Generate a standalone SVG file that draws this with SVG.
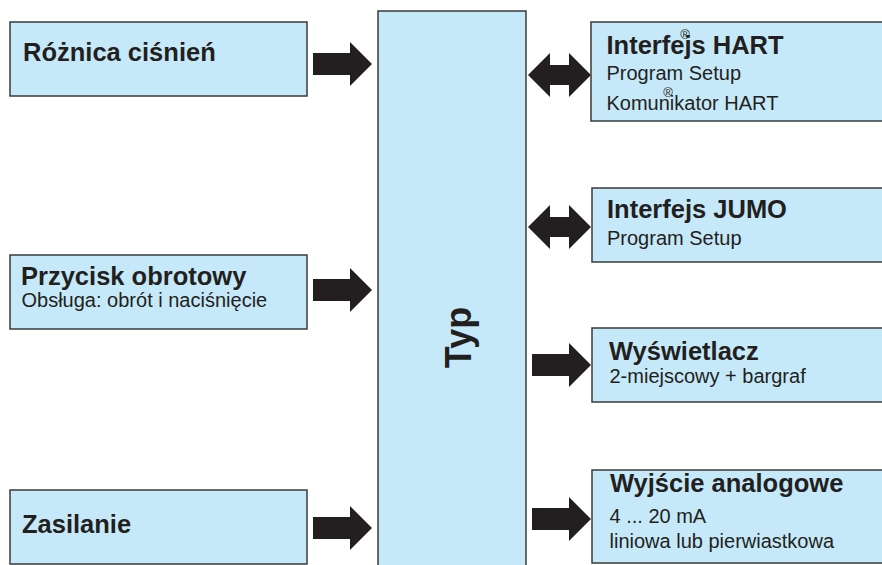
<svg xmlns="http://www.w3.org/2000/svg" width="882" height="565" viewBox="0 0 882 565">
<style>
.box{fill:#c6e9f9;stroke:#3a3a3a;stroke-width:1.5}
.arr{fill:#231f20}
text{font-family:"Liberation Sans",Arial,Helvetica,sans-serif;fill:#231f20}
.b{font-weight:bold;font-size:25.5px}
.r{font-size:20px}
.reg{font-size:13px}
</style>
<defs>
<path id="arrR" d="M0,-11 H37 V-22 L59,0 L37,22 V11 H0 Z"/>
<path id="arrD" d="M0,0 L22,-22 V-10 H41 V-22 L63,0 L41,22 V10 H22 V22 Z"/>
</defs>
<g id="connectors" class="arr">
<use href="#arrR" transform="translate(313,64)"/>
<use href="#arrR" transform="translate(313,290)"/>
<use href="#arrR" transform="translate(313,528)"/>
<use href="#arrD" transform="translate(528,75)"/>
<use href="#arrD" transform="translate(528,227)"/>
<use href="#arrR" transform="translate(532,365)"/>
<use href="#arrR" transform="translate(532,519)"/>
</g>
<g id="typ">
<rect class="box" x="378" y="11" width="148" height="570"/>
<text class="b" style="font-size:36px" text-anchor="middle" transform="translate(471,337.5) rotate(-90)">Typ</text>
</g>
<g id="roznica">
<rect class="box" x="10" y="22" width="297" height="74"/>
<text class="b" x="23" y="61">Różnica ciśnień</text>
</g>
<g id="przycisk">
<rect class="box" x="10" y="255" width="297" height="74"/>
<text class="b" x="21" y="285">Przycisk obrotowy</text>
<text class="r" x="21.5" y="307">Obsługa: obrót i naciśnięcie</text>
</g>
<g id="zasilanie">
<rect class="box" x="10" y="490" width="297" height="74"/>
<text class="b" x="22" y="533">Zasilanie</text>
</g>
<g id="hart">
<rect class="box" x="591" y="22" width="300" height="99"/>
<text class="b" x="606.5" y="54">Interfejs HART</text>
<text class="reg" x="685" y="38.5" text-anchor="middle">®</text>
<text class="r" x="606.5" y="80">Program Setup</text>
<text class="r" x="606.5" y="110">Komunikator HART</text>
<text class="reg" x="668" y="97" text-anchor="middle">®</text>
</g>
<g id="jumo">
<rect class="box" x="592" y="188" width="300" height="74"/>
<text class="b" x="607" y="218">Interfejs JUMO</text>
<text class="r" x="607" y="245">Program Setup</text>
</g>
<g id="wyswietlacz">
<rect class="box" x="592" y="328" width="300" height="74"/>
<text class="b" x="609" y="360">Wyświetlacz</text>
<text class="r" x="609.5" y="383">2-miejscowy + bargraf</text>
</g>
<g id="wyjscie">
<rect class="box" x="592" y="470" width="300" height="93"/>
<text class="b" x="610" y="492">Wyjście analogowe</text>
<text class="r" x="609.5" y="523">4 ... 20 mA</text>
<text class="r" x="609.5" y="548">liniowa lub pierwiastkowa</text>
</g>
</svg>
